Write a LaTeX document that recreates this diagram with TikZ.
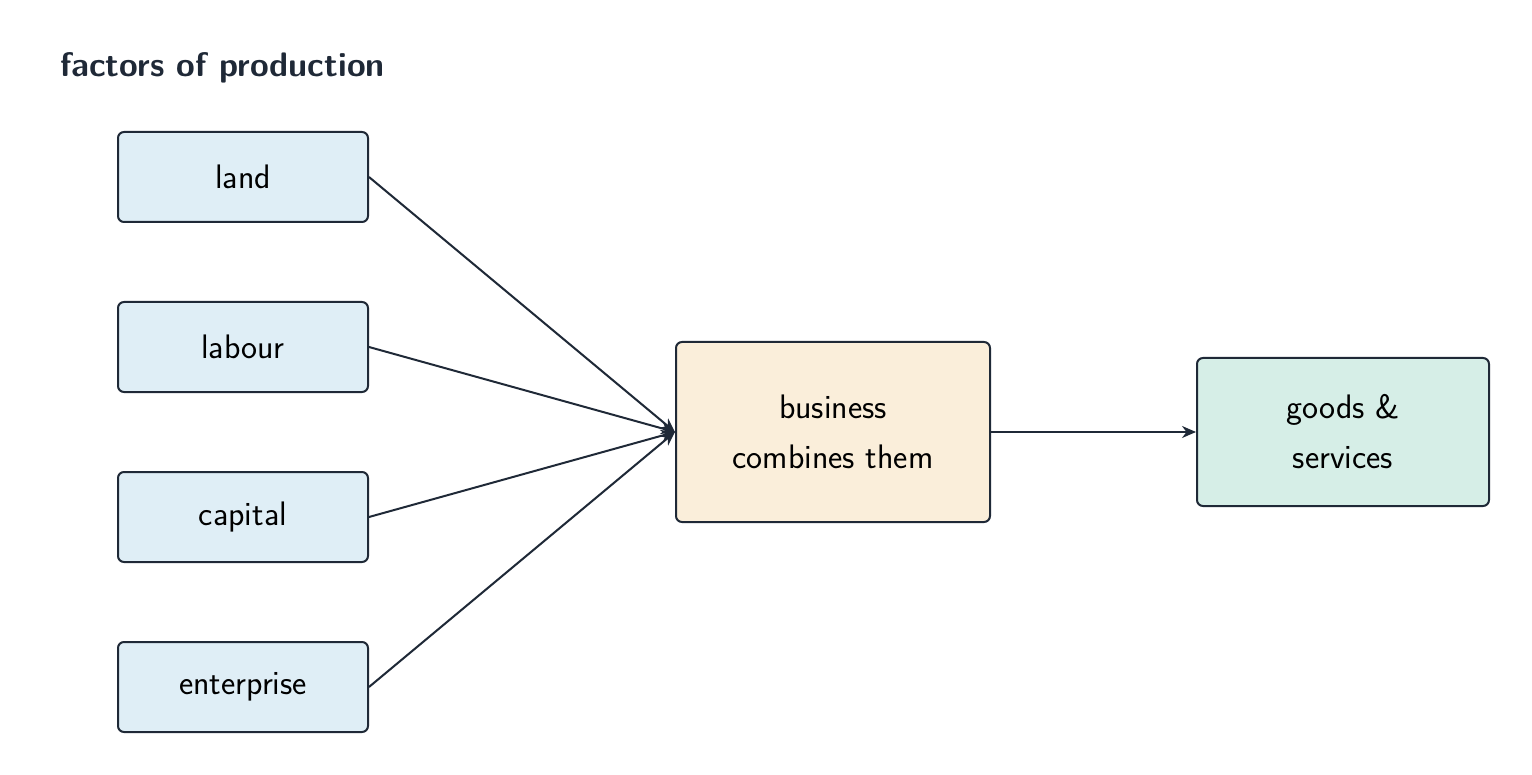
\documentclass[tikz,border=0pt]{standalone}
\usetikzlibrary{arrows.meta}
\definecolor{ink}{HTML}{1F2937}
\definecolor{inp}{HTML}{DFEEF6}
\definecolor{mid}{HTML}{FAEEDA}
\definecolor{outc}{HTML}{D6EEE7}
\begin{document}
\begin{tikzpicture}[x=0.5pt,y=-0.5pt,
 box/.style={draw=ink,line width=1pt,rounded corners=3pt,inner sep=0pt,font=\sffamily\fontsize{17}{25}\selectfont,align=center},
 arr/.style={draw=ink,line width=1pt,-{Stealth[length=7pt,width=6pt]}}]
\useasboundingbox (0,0) rectangle (1532,775);
\node[anchor=west,font=\sffamily\bfseries\fontsize{17}{20}\selectfont,text=ink] (t) at (53,68) {factors of production};
\foreach \n/\t/\y in {a/land/177,b/labour/347,c/capital/517,d/enterprise/687}
 \node[box,fill=inp,minimum width=125pt,minimum height=45pt] (\n) at (243,\y) {\t};
\node[box,fill=mid,minimum width=157pt,minimum height=90pt] (m) at (833,432) {business\\combines them};
\node[box,fill=outc,minimum width=146pt,minimum height=74pt] (o) at (1343,432) {goods \&\\services};
\foreach \n in {a,b,c,d} \draw[arr] (\n.east) -- (m.west);
\draw[arr] (m.east) -- (o.west);
\end{tikzpicture}
\end{document}
